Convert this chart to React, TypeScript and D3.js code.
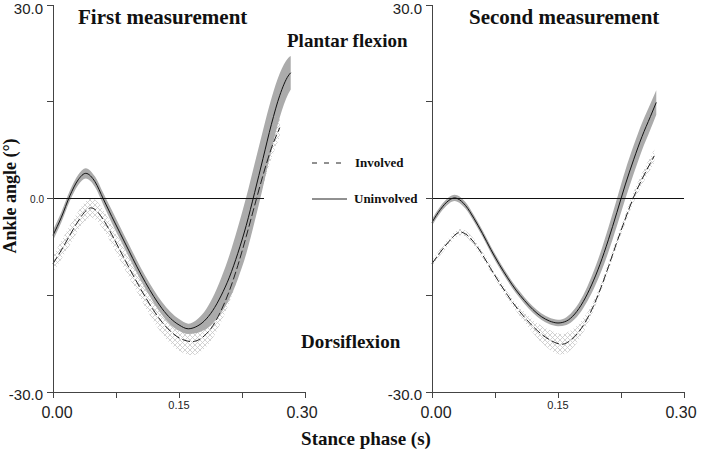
import React from "react";
import * as d3 from "d3";

// ---------- data ----------
const tLeftU = [0,0.01,0.02,0.03,0.039,0.05,0.06,0.07,0.08,0.09,0.10,0.11,0.12,0.13,0.14,0.15,0.161,0.17,0.18,0.19,0.20,0.21,0.22,0.23,0.24,0.25,0.26,0.27,0.28,0.283];
const vLeftU = [-5.7,-2.9,0.4,2.9,3.9,2.6,-0.1,-2.8,-5.4,-8.0,-10.6,-13.0,-15.2,-17.1,-18.6,-19.6,-20.2,-19.9,-19.0,-17.4,-15.1,-12.2,-8.5,-4.2,0.9,6.2,11.5,16.0,19.0,19.5];
const sdLeftU = [0.8,0.8,0.8,0.8,0.8,0.8,0.9,1.0,1.0,1.0,1.0,1.0,1.0,1.0,1.0,0.9,0.8,1.0,1.4,2.0,2.7,3.4,4.0,4.4,4.5,4.4,4.0,3.4,2.8,2.6];

const tLeftI = [0,0.01,0.02,0.03,0.04,0.045,0.05,0.06,0.07,0.08,0.09,0.10,0.11,0.12,0.13,0.14,0.15,0.16,0.166,0.17,0.18,0.19,0.20,0.21,0.22,0.23,0.24,0.25,0.26,0.27];
const vLeftI = [-10.1,-8.0,-5.7,-3.5,-1.8,-1.45,-1.7,-3.3,-5.6,-8.1,-10.6,-13.0,-15.3,-17.4,-19.2,-20.6,-21.6,-22.1,-22.2,-22.1,-21.3,-19.8,-17.4,-14.3,-10.4,-5.9,-1.1,3.6,7.8,11.0];
const sdLeftI = [1.3,1.4,1.5,1.5,1.5,1.5,1.5,1.5,1.5,1.5,1.5,1.5,1.6,1.7,1.8,1.9,2.0,2.1,2.1,2.1,2.0,1.9,1.8,1.8,1.8,1.8,1.8,1.7,1.6,1.5];

const tRightU = [0,0.01,0.02,0.027,0.03,0.04,0.05,0.06,0.07,0.08,0.09,0.10,0.11,0.12,0.13,0.14,0.15,0.16,0.17,0.18,0.19,0.20,0.21,0.22,0.23,0.24,0.25,0.26,0.267];
const vRightU = [-3.7,-1.7,-0.3,0.1,0.0,-1.1,-3.1,-5.4,-7.9,-10.2,-12.3,-14.2,-15.8,-17.2,-18.3,-19.0,-19.3,-19.0,-17.9,-16.0,-13.4,-10.2,-6.4,-2.2,2.1,6.0,9.6,12.7,14.9];
const sdRightU = [0.5,0.5,0.5,0.5,0.5,0.5,0.5,0.5,0.5,0.5,0.5,0.5,0.5,0.5,0.5,0.5,0.5,0.6,0.8,1.0,1.3,1.6,1.9,2.1,2.2,2.2,2.1,2.0,1.9];

const tRightI = [0,0.01,0.02,0.03,0.034,0.04,0.05,0.06,0.07,0.08,0.09,0.10,0.11,0.12,0.13,0.14,0.15,0.155,0.16,0.17,0.18,0.19,0.20,0.21,0.22,0.23,0.24,0.25,0.26,0.2646];
const vRightI = [-10.1,-8.3,-6.7,-5.4,-5.2,-5.5,-6.8,-8.7,-10.9,-13.0,-15.0,-16.8,-18.4,-19.8,-21.0,-21.9,-22.5,-22.6,-22.4,-21.4,-19.7,-17.3,-14.2,-10.6,-6.8,-3.2,0.2,3.0,5.5,6.6];
const sdRightI = [0.5,0.5,0.5,0.5,0.5,0.5,0.5,0.5,0.5,0.5,0.5,0.6,0.8,1.0,1.3,1.5,1.6,1.6,1.6,1.4,1.1,0.8,0.6,0.6,0.6,0.7,0.8,0.9,1.0,1.0];

const panelTitles = ["First measurement", "Second measurement"];
const zeroLineEnd = [0.251, 0.3];
const yTicks = [-30, -15, 0, 15, 30];
const xTicks = [0, 0.075, 0.15, 0.225, 0.3];
const legendLabels = ["Involved", "Uninvolved"];

const panels = [
  { t: [tLeftU, tLeftI], v: [vLeftU, vLeftI], sd: [sdLeftU, sdLeftI] },
  { t: [tRightU, tRightI], v: [vRightU, vRightI], sd: [sdRightU, sdRightI] },
];

// ---------- layout ----------
const W = 702, H = 453;
const PX0 = [53, 432];
const PW = 252;
const TOP = 5, BOTTOM = 392;

const SERIF = "'Liberation Serif', 'Times New Roman', serif";
const SANS = "'Liberation Sans', Arial, sans-serif";

function Panel({ idx }: { idx: number }) {
  const p = panels[idx];
  const x0 = PX0[idx];
  const x = d3.scaleLinear().domain([0, 0.3]).range([x0, x0 + PW]);
  const y = d3.scaleLinear().domain([-30, 30]).range([BOTTOM, TOP]);

  const mk = (k: number) => p.t[k].map((t, i) => ({ t, v: p.v[k][i], s: p.sd[k][i] }));
  const U = mk(0), I = mk(1);
  type P = { t: number; v: number; s: number };
  const area = d3.area<P>().x(d => x(d.t)).y0(d => y(d.v - d.s)).y1(d => y(d.v + d.s)).curve(d3.curveMonotoneX);
  const line = d3.line<P>().x(d => x(d.t)).y(d => y(d.v)).curve(d3.curveMonotoneX);

  return (
    <g>
      {/* bands */}
      <path d={area(I) || ""} fill="url(#hatch)" stroke="none" />
      <path d={area(U) || ""} fill="#ababab" stroke="none" />
      {/* zero line */}
      <line x1={x(0)} x2={x(zeroLineEnd[idx])} y1={y(0)} y2={y(0)} stroke="#111" strokeWidth={1} shapeRendering="crispEdges" />
      {/* lines */}
      <path d={line(I) || ""} fill="none" stroke="#222" strokeWidth={1} strokeDasharray="8,3" />
      <path d={line(U) || ""} fill="none" stroke="#111" strokeWidth={1} />
      {/* y axis */}
      <line x1={x0} x2={x0} y1={y(30)} y2={y(-30)} stroke="#444" shapeRendering="crispEdges" />
      {yTicks.map(v => (
        <line key={v} x1={x0 - 6} x2={x0} y1={y(v)} y2={y(v)} stroke="#444" shapeRendering="crispEdges" />
      ))}
      <text x={x0 - 10} y={y(30) + 9} textAnchor="end" fontFamily={SANS} fontSize={15} fill="#222">30.0</text>
      <text x={x0 - 10} y={y(-30) + 8} textAnchor="end" fontFamily={SANS} fontSize={15} fill="#222">-30.0</text>
      {idx === 0 && (
        <text x={x0 - 9} y={y(0) + 4} textAnchor="end" fontFamily={SANS} fontSize={10} fill="#222">0.0</text>
      )}
      {/* x axis */}
      <line x1={x0} x2={x0 + PW} y1={BOTTOM} y2={BOTTOM} stroke="#444" shapeRendering="crispEdges" />
      {xTicks.map(t => (
        <line key={t} x1={x(t)} x2={x(t)} y1={BOTTOM} y2={BOTTOM + 6} stroke="#444" shapeRendering="crispEdges" />
      ))}
      <text x={x(0) + 4} y={418} textAnchor="middle" fontFamily={SANS} fontSize={16} fill="#222">0.00</text>
      <text x={x(0.15)} y={409} textAnchor="middle" fontFamily={SANS} fontSize={11} fill="#222">0.15</text>
      <text x={x(0.3) - 3} y={418} textAnchor="middle" fontFamily={SANS} fontSize={16} fill="#222">0.30</text>
      {/* title */}
      <text x={x0 + (idx === 0 ? 25 : 37)} y={24} fontFamily={SERIF} fontWeight="bold" fontSize={21} fill="#111">{panelTitles[idx]}</text>
    </g>
  );
}

export default function App() {
  return (
    <div style={{ position: "absolute", left: 0, top: 0 }}>
      <svg width={W} height={H} style={{ display: "block", background: "#fff" }}>
        <defs>
          <pattern id="hatch" width={5} height={5} patternUnits="userSpaceOnUse">
            <path d="M0,0 L5,5 M5,0 L0,5" stroke="#c8c8c8" strokeWidth={0.8} />
          </pattern>
        </defs>
        <rect x={0} y={0} width={W} height={H} fill="#fff" />
        <Panel idx={0} />
        <Panel idx={1} />
        {/* region labels */}
        <text x={287} y={47} fontFamily={SERIF} fontWeight="bold" fontSize={19} fill="#111">Plantar flexion</text>
        <text x={301} y={348} fontFamily={SERIF} fontWeight="bold" fontSize={19} fill="#111">Dorsiflexion</text>
        {/* legend */}
        <line x1={312} x2={347} y1={163} y2={163} stroke="#222" strokeDasharray="5,7" />
        <text x={355} y={167} fontFamily={SERIF} fontWeight="bold" fontSize={13} fill="#111">{legendLabels[0]}</text>
        <line x1={312} x2={347} y1={199} y2={199} stroke="#222" />
        <text x={354} y={203} fontFamily={SERIF} fontWeight="bold" fontSize={13} fill="#111">{legendLabels[1]}</text>
        {/* axis titles */}
        <text transform="translate(16,196) rotate(-90)" textAnchor="middle" fontFamily={SERIF} fontWeight="bold" fontSize={18} fill="#111">Ankle angle (°)</text>
        <text x={366} y={445} textAnchor="middle" fontFamily={SERIF} fontWeight="bold" fontSize={19} fill="#111">Stance phase (s)</text>
      </svg>
    </div>
  );
}
